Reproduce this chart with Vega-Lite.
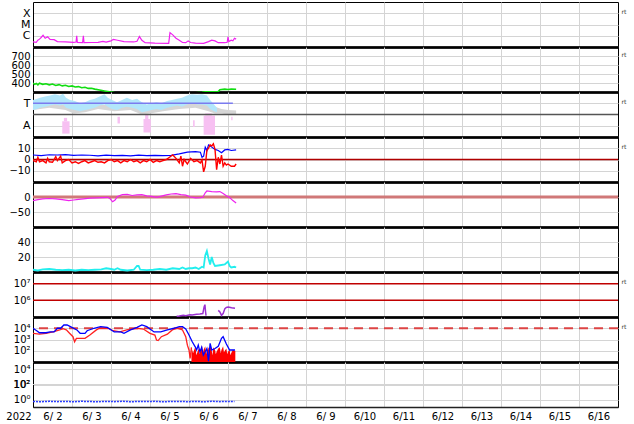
{
"$schema":"https://vega.github.io/schema/vega-lite/v6.json",
"padding":{"left":2,"top":1,"right":2,"bottom":2},
"bounds":"flush",
"spacing":0,
"datasets":{
"xr":[{"h":0,"v":2.8e-7},{"h":2,"v":2.6e-7},{"h":3,"v":4e-7},{"h":4,"v":5e-7},{"h":5,"v":7e-7},{"h":6.2,"v":1.1e-6},{"h":7.5,"v":6e-7},{"h":9,"v":8e-7},{"h":10.5,"v":4.8e-7},{"h":13,"v":4.5e-7},{"h":15,"v":3e-7},{"h":20,"v":2.8e-7},{"h":25,"v":2.6e-7},{"h":26.5,"v":2.8e-7},{"h":26.9,"v":1e-6},{"h":27.3,"v":2.5e-7},{"h":30.5,"v":2.4e-7},{"h":31,"v":1e-6},{"h":31.4,"v":2.4e-7},{"h":36,"v":2.5e-7},{"h":40,"v":2.6e-7},{"h":43,"v":3.2e-7},{"h":45,"v":2.7e-7},{"h":48,"v":3.5e-7},{"h":49.5,"v":4.8e-7},{"h":52,"v":4e-7},{"h":56,"v":3e-7},{"h":62,"v":2.8e-7},{"h":64,"v":3.2e-7},{"h":65.5,"v":8.5e-7},{"h":67,"v":4e-7},{"h":69,"v":2.4e-7},{"h":75,"v":2.2e-7},{"h":83.5,"v":2.1e-7},{"h":84.3,"v":1.9e-6},{"h":86,"v":1.2e-6},{"h":88,"v":6e-7},{"h":90,"v":4e-7},{"h":92,"v":2.5e-7},{"h":94,"v":2.4e-7},{"h":95.5,"v":3.5e-7},{"h":97,"v":2.5e-7},{"h":100,"v":2.2e-7},{"h":105,"v":2.1e-7},{"h":108,"v":3e-7},{"h":110,"v":4e-7},{"h":112,"v":3.5e-7},{"h":114,"v":2.4e-7},{"h":118,"v":2.4e-7},{"h":119.5,"v":2.6e-7},{"h":120,"v":8e-7},{"h":120.5,"v":3e-7},{"h":122,"v":4e-7},{"h":123,"v":3.5e-7},{"h":124,"v":6e-7},{"h":125,"v":5e-7}],
"sw":[{"h":0,"v":400},{"h":1,"v":385},{"h":2,"v":395},{"h":3,"v":380},{"h":4,"v":398},{"h":6,"v":385},{"h":8,"v":392},{"h":10,"v":380},{"h":12,"v":388},{"h":14,"v":372},{"h":16,"v":382},{"h":18,"v":368},{"h":20,"v":375},{"h":22,"v":362},{"h":24,"v":368},{"h":26,"v":355},{"h":28,"v":360},{"h":30,"v":348},{"h":32,"v":352},{"h":34,"v":340},{"h":36,"v":342},{"h":38,"v":332},{"h":41,"v":322},{"h":44,"v":312},{"h":47,"v":302},{"h":50,"v":295},{"h":60,"v":290},{"h":80,"v":288},{"h":100,"v":292},{"h":104,"v":298},{"h":106,"v":302},{"h":110,"v":303},{"h":114,"v":305},{"h":115,"v":325},{"h":118,"v":332},{"h":120,"v":328},{"h":122,"v":332},{"h":125,"v":330}],
"gr":[{"h":0,"v":2.4,"v2":2.9},{"h":10,"v":2.6,"v2":3.0},{"h":20,"v":2.4,"v2":2.9},{"h":25,"v":2.1,"v2":2.7},{"h":32,"v":2.2,"v2":2.7},{"h":40,"v":2.5,"v2":2.9},{"h":50,"v":2.3,"v2":2.8},{"h":60,"v":2.4,"v2":2.9},{"h":67,"v":2.0,"v2":2.6},{"h":72,"v":2.1,"v2":2.6},{"h":80,"v":2.3,"v2":2.7},{"h":90,"v":2.5,"v2":3.0},{"h":100,"v":2.6,"v2":3.1},{"h":108,"v":2.3,"v2":2.9},{"h":112,"v":2.1,"v2":2.7},{"h":116,"v":2.1,"v2":2.5},{"h":120,"v":2.0,"v2":2.4},{"h":125,"v":2.05,"v2":2.35}],
"lb":[{"h":0,"v":2.4,"v2":3.3},{"h":2.5,"v":2.5,"v2":3.4},{"h":4.3,"v":2.6,"v2":3.5},{"h":7.4,"v":2.7,"v2":3.6},{"h":10.5,"v":2.8,"v2":3.7},{"h":13.5,"v":2.9,"v2":3.8},{"h":16.6,"v":2.8,"v2":3.7},{"h":18.5,"v":2.9,"v2":3.85},{"h":20.3,"v":2.6,"v2":3.5},{"h":22.8,"v":2.5,"v2":3.3},{"h":25.8,"v":2.4,"v2":3.2},{"h":28.9,"v":2.3,"v2":3.0},{"h":32,"v":2.4,"v2":3.1},{"h":35,"v":2.5,"v2":3.3},{"h":38,"v":2.6,"v2":3.4},{"h":41,"v":2.8,"v2":3.6},{"h":44,"v":2.9,"v2":3.8},{"h":46,"v":2.7,"v2":3.5},{"h":48.6,"v":2.5,"v2":3.3},{"h":51.7,"v":2.4,"v2":3.1},{"h":54.8,"v":2.6,"v2":3.3},{"h":57.8,"v":2.7,"v2":3.5},{"h":61,"v":2.6,"v2":3.3},{"h":64,"v":2.5,"v2":3.4},{"h":67,"v":2.2,"v2":3.1},{"h":70,"v":2.3,"v2":2.9},{"h":73,"v":2.4,"v2":3.0},{"h":76,"v":2.5,"v2":3.1},{"h":79,"v":2.4,"v2":3.0},{"h":82.5,"v":2.6,"v2":3.2},{"h":85.5,"v":2.7,"v2":3.3},{"h":88.6,"v":2.8,"v2":3.4},{"h":91.7,"v":2.7,"v2":3.5},{"h":94.8,"v":2.9,"v2":3.7},{"h":97.8,"v":3.0,"v2":3.8},{"h":101,"v":2.9,"v2":3.75},{"h":104,"v":2.9,"v2":3.8},{"h":107,"v":2.8,"v2":3.7},{"h":109,"v":2.5,"v2":3.3},{"h":111.4,"v":2.3,"v2":2.9},{"h":113.2,"v":2.2,"v2":2.6}],
"pk":[{"h":18,"h2":22.5,"v":0.3,"v2":1.4},{"h":19,"h2":21,"v":1.4,"v2":1.7},{"h":52,"h2":53.5,"v":1.2,"v2":1.8},{"h":68,"h2":72.5,"v":0.4,"v2":1.6},{"h":69,"h2":71,"v":1.6,"v2":2.0},{"h":98.5,"h2":99.5,"v":0.9,"v2":1.5},{"h":105,"h2":112,"v":0.2,"v2":1.9},{"h":106,"h2":110,"v":1.9,"v2":2.1},{"h":122,"h2":122.8,"v":1.5,"v2":1.8}],
"bt":[{"h":0,"v":4},{"h":5,"v":3.5},{"h":10,"v":4.2},{"h":15,"v":4},{"h":20,"v":4.4},{"h":25,"v":3.6},{"h":30,"v":4},{"h":35,"v":3.8},{"h":40,"v":3.2},{"h":45,"v":3.9},{"h":50,"v":3.5},{"h":55,"v":3.7},{"h":60,"v":3.3},{"h":65,"v":3.8},{"h":70,"v":3.5},{"h":75,"v":3.6},{"h":80,"v":3.4},{"h":85,"v":3.7},{"h":90,"v":5},{"h":95,"v":6.5},{"h":100,"v":7},{"h":103,"v":6.5},{"h":104,"v":2},{"h":105,"v":3},{"h":106,"v":11},{"h":107,"v":8},{"h":108,"v":13},{"h":110,"v":11},{"h":112,"v":9},{"h":114,"v":8},{"h":116,"v":6},{"h":118,"v":8.5},{"h":120,"v":9},{"h":122,"v":8},{"h":125,"v":8.5}],
"bz":[{"h":0,"v":-1},{"h":2,"v":-2},{"h":3,"v":2},{"h":4,"v":-2},{"h":6,"v":-1},{"h":8,"v":-3},{"h":9,"v":1},{"h":10,"v":-2},{"h":12,"v":-2.5},{"h":14,"v":2.5},{"h":15,"v":-1},{"h":17,"v":3},{"h":18,"v":-3},{"h":20,"v":-1},{"h":22,"v":0},{"h":24,"v":-3},{"h":26,"v":-2},{"h":28,"v":-3.5},{"h":30,"v":-2},{"h":32,"v":-1},{"h":34,"v":-3},{"h":36,"v":-2},{"h":38,"v":-1},{"h":40,"v":-2.5},{"h":42,"v":-2},{"h":44,"v":-3},{"h":46,"v":-1},{"h":48,"v":0},{"h":50,"v":-2},{"h":52,"v":-1},{"h":54,"v":-3},{"h":56,"v":-1},{"h":58,"v":-2},{"h":60,"v":0},{"h":62,"v":-2},{"h":64,"v":-1},{"h":66,"v":-3},{"h":68,"v":-1},{"h":70,"v":-2},{"h":72,"v":0},{"h":74,"v":-2.5},{"h":76,"v":-1},{"h":78,"v":-2},{"h":80,"v":-1},{"h":82,"v":0},{"h":84,"v":2},{"h":86,"v":4},{"h":88,"v":1},{"h":90,"v":-3},{"h":91,"v":3},{"h":92,"v":-6},{"h":93,"v":0},{"h":95,"v":-4},{"h":97,"v":1},{"h":99,"v":-2},{"h":101,"v":-1},{"h":103,"v":-3},{"h":104,"v":-0.5},{"h":105,"v":-11},{"h":106,"v":-6},{"h":107,"v":8},{"h":108,"v":10},{"h":109,"v":13},{"h":110,"v":12},{"h":111,"v":14},{"h":112,"v":9},{"h":113,"v":-9},{"h":114,"v":2},{"h":115,"v":-4},{"h":116,"v":4},{"h":117,"v":-6},{"h":118,"v":-3},{"h":119,"v":-5},{"h":120,"v":-4},{"h":122,"v":-6},{"h":124,"v":-6},{"h":125,"v":-4}],
"dst":[{"h":0,"v":-12},{"h":3,"v":-9},{"h":6,"v":-6},{"h":10,"v":-5},{"h":14,"v":-6},{"h":18,"v":-9},{"h":22,"v":-12},{"h":25,"v":-10},{"h":28,"v":-8},{"h":31,"v":-6},{"h":35,"v":-4},{"h":39,"v":-3},{"h":43,"v":-2},{"h":46,"v":-1},{"h":47.5,"v":-6},{"h":49,"v":-16},{"h":50.5,"v":-10},{"h":52,"v":2},{"h":55,"v":8},{"h":58,"v":9},{"h":61,"v":5},{"h":64,"v":7},{"h":67,"v":8},{"h":70,"v":4},{"h":73,"v":2},{"h":76,"v":-1},{"h":79,"v":3},{"h":82,"v":7},{"h":85,"v":10},{"h":88,"v":11},{"h":91,"v":8},{"h":94,"v":6},{"h":97,"v":0},{"h":100,"v":-3},{"h":103,"v":-2},{"h":104.5,"v":-1},{"h":106,"v":14},{"h":107,"v":20},{"h":110,"v":18},{"h":113,"v":17},{"h":115,"v":18},{"h":117,"v":12},{"h":119,"v":4},{"h":121,"v":-2},{"h":123,"v":-12},{"h":125,"v":-20}],
"np":[{"h":0,"v":3},{"h":3,"v":2},{"h":6,"v":3.5},{"h":10,"v":4},{"h":14,"v":3},{"h":18,"v":2.5},{"h":22,"v":3},{"h":26,"v":2},{"h":30,"v":3},{"h":34,"v":2.5},{"h":38,"v":3},{"h":42,"v":3.5},{"h":45,"v":5},{"h":48,"v":4},{"h":50,"v":3},{"h":52,"v":5},{"h":54,"v":3},{"h":58,"v":2},{"h":62,"v":3},{"h":64,"v":8},{"h":65,"v":8},{"h":66,"v":3},{"h":70,"v":2.5},{"h":74,"v":3},{"h":78,"v":4},{"h":82,"v":3},{"h":86,"v":5},{"h":90,"v":4},{"h":92,"v":6},{"h":94,"v":4},{"h":96,"v":5},{"h":98,"v":5},{"h":100,"v":6},{"h":102,"v":4},{"h":104,"v":7},{"h":105,"v":6},{"h":106,"v":22},{"h":107,"v":28},{"h":108,"v":18},{"h":109,"v":10},{"h":110,"v":20},{"h":111,"v":12},{"h":112,"v":8},{"h":115,"v":9},{"h":118,"v":10},{"h":120,"v":14},{"h":121,"v":8},{"h":122,"v":6},{"h":124,"v":7},{"h":125,"v":6}],
"gp":[{"s":"a","h":88.4,"v":1.1e5},{"s":"a","h":90,"v":1.15e5},{"s":"a","h":92.5,"v":1.26e5},{"s":"a","h":94,"v":1.2e5},{"s":"a","h":96.6,"v":1.38e5},{"s":"a","h":98,"v":1.3e5},{"s":"a","h":100.7,"v":1.45e5},{"s":"a","h":102.7,"v":1.5e5},{"s":"a","h":104.5,"v":1.6e5},{"s":"a","h":105.3,"v":4e5},{"s":"a","h":105.8,"v":5.5e5},{"s":"a","h":106.2,"v":2e5},{"s":"a","h":106.5,"v":1.2e5},{"s":"b","h":114,"v":2.5e5},{"s":"b","h":115,"v":2e5},{"s":"b","h":116,"v":1.26e5},{"s":"b","h":117,"v":1.6e5},{"s":"b","h":118.1,"v":3.2e5},{"s":"b","h":119,"v":3.8e5},{"s":"b","h":120.1,"v":4e5},{"s":"b","h":122.2,"v":3.6e5},{"s":"b","h":124.3,"v":3.3e5}],
"pb":[{"h":0,"v":10000},{"h":2.3,"v":6000},{"h":4,"v":4000},{"h":8,"v":4000},{"h":10.5,"v":4700},{"h":13,"v":4700},{"h":15,"v":10000},{"h":17,"v":10000},{"h":19,"v":19500},{"h":21,"v":19500},{"h":23,"v":13800},{"h":27,"v":7100},{"h":29,"v":3550},{"h":32,"v":3550},{"h":33.3,"v":6000},{"h":37.5,"v":10000},{"h":41.6,"v":13800},{"h":45.7,"v":12000},{"h":50,"v":4700},{"h":54,"v":4700},{"h":56,"v":3550},{"h":60,"v":7100},{"h":64,"v":12000},{"h":67,"v":19500},{"h":70,"v":13800},{"h":74.5,"v":4700},{"h":78.6,"v":4700},{"h":82.7,"v":7100},{"h":86.8,"v":10000},{"h":90,"v":13800},{"h":92,"v":13800},{"h":94,"v":8500},{"h":96,"v":2500},{"h":98,"v":630},{"h":100,"v":200},{"h":100.7,"v":117},{"h":101.7,"v":316},{"h":102.7,"v":79},{"h":103.8,"v":200},{"h":104.8,"v":40},{"h":107,"v":158},{"h":108,"v":12},{"h":109,"v":457},{"h":110,"v":117},{"h":112,"v":158},{"h":114,"v":251},{"h":116,"v":1260},{"h":117,"v":1780},{"h":119,"v":400},{"h":121,"v":117},{"h":124.3,"v":117}],
"er":[{"h":0,"v":3550},{"h":4,"v":3000},{"h":8,"v":3550},{"h":12.3,"v":4700},{"h":16.4,"v":7000},{"h":18.5,"v":9100},{"h":20.5,"v":7100},{"h":22.5,"v":3550},{"h":24.6,"v":1780},{"h":25.6,"v":630},{"h":26.7,"v":1260},{"h":29,"v":1260},{"h":32,"v":1260},{"h":35,"v":2500},{"h":39,"v":7100},{"h":41,"v":10000},{"h":46,"v":10000},{"h":49.4,"v":6000},{"h":53.5,"v":4700},{"h":57.6,"v":7100},{"h":64,"v":10000},{"h":67.9,"v":8500},{"h":72,"v":3550},{"h":75,"v":2500},{"h":76,"v":900},{"h":77,"v":800},{"h":79,"v":1780},{"h":82.7,"v":3000},{"h":85.7,"v":7100},{"h":88.8,"v":10000},{"h":92,"v":7100},{"h":94,"v":1780},{"h":95,"v":316},{"h":96,"v":117},{"h":96.7,"v":21},{"h":97.5,"v":200}],
"ef":[{"h":97.5,"v":200},{"h":98.5,"v":60},{"h":99,"v":100},{"h":100,"v":250},{"h":100.5,"v":40},{"h":101,"v":63},{"h":102,"v":160},{"h":102.5,"v":50},{"h":103,"v":100},{"h":104,"v":316},{"h":104.5,"v":60},{"h":105,"v":125},{"h":106,"v":250},{"h":106.5,"v":50},{"h":107,"v":100},{"h":108,"v":200},{"h":108.5,"v":70},{"h":109,"v":316},{"h":110,"v":100},{"h":110.5,"v":40},{"h":111,"v":200},{"h":112,"v":125},{"h":112.5,"v":50},{"h":113,"v":80},{"h":114,"v":160},{"h":115,"v":200},{"h":115.5,"v":60},{"h":116,"v":125},{"h":117,"v":250},{"h":117.5,"v":70},{"h":118,"v":100},{"h":119,"v":160},{"h":119.5,"v":50},{"h":120,"v":80},{"h":121,"v":125},{"h":121.5,"v":40},{"h":122,"v":63},{"h":123,"v":125},{"h":124,"v":100},{"h":124.5,"v":100}],
"lo":[{"h":0,"v":0.55},{"h":5,"v":0.5},{"h":10,"v":0.57},{"h":15,"v":0.52},{"h":20,"v":0.56},{"h":25,"v":0.5},{"h":30,"v":0.57},{"h":35,"v":0.53},{"h":40,"v":0.5},{"h":45,"v":0.56},{"h":50,"v":0.52},{"h":55,"v":0.58},{"h":60,"v":0.5},{"h":65,"v":0.55},{"h":70,"v":0.52},{"h":75,"v":0.57},{"h":80,"v":0.5},{"h":85,"v":0.54},{"h":90,"v":0.56},{"h":95,"v":0.51},{"h":100,"v":0.55},{"h":105,"v":0.5},{"h":110,"v":0.57},{"h":115,"v":0.52},{"h":120,"v":0.54},{"h":124,"v":0.53}]
},
"vconcat":[
{"width":585,"height":45,"layer":[
 {"data":{"name":"xr"},"mark":{"type":"line","color":"#f020f0","strokeWidth":1.2,"clip":true},
  "encoding":{"x":{"field":"h","type":"quantitative","title":null,"scale":{"domain":[0,360],"nice":false,"zero":false},"axis":{"values":[0,24,48,72,96,120,144,168,192,216,240,264,288,312,336],"tickCount":30}},
   "y":{"field":"v","type":"quantitative","title":null,"scale":{"type":"log","domain":[1e-7,1e-3],"nice":false},"axis":{"values":[1e-6,1e-5,1e-4],"tickCount":10,"labelOverlap":false,"labelExpr":"datum.value > 5e-5 ? 'X' : datum.value > 5e-6 ? 'M' : 'C'","labelFontSize":11}}}},
 {"data":{"values":[{}]},"mark":{"type":"text","text":"rt","fontSize":6,"dx":6,"dy":-1,"align":"center","color":"#333"},"encoding":{"x":{"datum":360},"y":{"datum":1e-4}}}
]},
{"width":585,"height":45,"layer":[
 {"data":{"name":"sw"},"mark":{"type":"line","color":"#11dd11","strokeWidth":1.6,"clip":true},
  "encoding":{"x":{"field":"h","type":"quantitative","title":null,"scale":{"domain":[0,360],"nice":false,"zero":false},"axis":{"values":[0,24,48,72,96,120,144,168,192,216,240,264,288,312,336],"tickCount":30}},
   "y":{"field":"v","type":"quantitative","title":null,"scale":{"domain":[300,800],"nice":false,"zero":false},"axis":{"values":[400,500,600,700],"tickCount":10,"labelOverlap":false}}}},
 {"data":{"values":[{}]},"mark":{"type":"text","text":"rt","fontSize":6,"dx":6,"dy":-1,"align":"center","color":"#333"},"encoding":{"x":{"datum":360},"y":{"datum":700}}}
]},
{"width":585,"height":45,"layer":[
 {"data":{"name":"gr"},"mark":{"type":"area","color":"#d6d6d6","clip":true},
  "encoding":{"x":{"field":"h","type":"quantitative","title":null,"scale":{"domain":[0,360],"nice":false,"zero":false},"axis":{"values":[0,24,48,72,96,120,144,168,192,216,240,264,288,312,336],"tickCount":30}},
   "y":{"field":"v","type":"quantitative","title":null,"scale":{"domain":[0,4],"nice":false,"zero":false},"axis":{"values":[1,3],"tickCount":10,"labelOverlap":false,"labelExpr":"datum.value == 3 ? 'T' : 'A'","labelFontSize":11}},
   "y2":{"field":"v2"}}},
 {"data":{"name":"lb"},"mark":{"type":"area","color":"#b2e6fb","clip":true},
  "encoding":{"x":{"field":"h","type":"quantitative","title":null},"y":{"field":"v","type":"quantitative","title":null},"y2":{"field":"v2"}}},
 {"data":{"name":"pk"},"mark":{"type":"rect","color":"#f7c0f2"},
  "encoding":{"x":{"field":"h","type":"quantitative","title":null},"x2":{"field":"h2"},"y":{"field":"v","type":"quantitative","title":null},"y2":{"field":"v2"}}},
 {"data":{"values":[{}]},"mark":{"type":"rule","color":"#555555","strokeWidth":1.5},"encoding":{"y":{"datum":2}}},
 {"data":{"values":[{}]},"mark":{"type":"rule","color":"#7b7bef","strokeWidth":1.5},"encoding":{"x":{"datum":0},"x2":{"datum":123},"y":{"datum":3}}},
 {"data":{"values":[{}]},"mark":{"type":"text","text":"rt","fontSize":6,"dx":6,"dy":-1.5,"align":"center","color":"#333"},"encoding":{"x":{"datum":360},"y":{"datum":3}}}
]},
{"width":585,"height":45,"layer":[
 {"data":{"values":[{}]},"mark":{"type":"rule","color":"#b00000","strokeWidth":1.5},"encoding":{"y":{"datum":0}}},
 {"data":{"name":"bt"},"mark":{"type":"line","color":"#0000ff","strokeWidth":1.2,"clip":true},
  "encoding":{"x":{"field":"h","type":"quantitative","title":null,"scale":{"domain":[0,360],"nice":false,"zero":false},"axis":{"values":[0,24,48,72,96,120,144,168,192,216,240,264,288,312,336],"tickCount":30}},
   "y":{"field":"v","type":"quantitative","title":null,"scale":{"domain":[-20,20],"nice":false,"zero":false},"axis":{"values":[-10,0,10],"tickCount":10,"labelOverlap":false}}}},
 {"data":{"name":"bz"},"mark":{"type":"line","color":"#ff0000","strokeWidth":1.4,"clip":true},
  "encoding":{"x":{"field":"h","type":"quantitative","title":null},"y":{"field":"v","type":"quantitative","title":null}}},
 {"data":{"values":[{}]},"mark":{"type":"text","text":"rt","fontSize":6,"dx":6,"dy":-1.5,"align":"center","color":"#333"},"encoding":{"x":{"datum":360},"y":{"datum":10}}}
]},
{"width":585,"height":45,"layer":[
 {"data":{"values":[{}]},"mark":{"type":"rule","color":"#d07878","strokeWidth":3},"encoding":{"y":{"datum":0}}},
 {"data":{"name":"dst"},"mark":{"type":"line","color":"#ee22ee","strokeWidth":1.2,"clip":true},
  "encoding":{"x":{"field":"h","type":"quantitative","title":null,"scale":{"domain":[0,360],"nice":false,"zero":false},"axis":{"values":[0,24,48,72,96,120,144,168,192,216,240,264,288,312,336],"tickCount":30}},
   "y":{"field":"v","type":"quantitative","title":null,"scale":{"domain":[-100,50],"nice":false,"zero":false},"axis":{"values":[-50,0],"tickCount":10,"labelOverlap":false}}}}
]},
{"width":585,"height":45,"layer":[
 {"data":{"name":"np"},"mark":{"type":"line","color":"#22eeee","strokeWidth":1.8,"clip":true},
  "encoding":{"x":{"field":"h","type":"quantitative","title":null,"scale":{"domain":[0,360],"nice":false,"zero":false},"axis":{"values":[0,24,48,72,96,120,144,168,192,216,240,264,288,312,336],"tickCount":30}},
   "y":{"field":"v","type":"quantitative","title":null,"scale":{"domain":[0,60],"nice":false,"zero":false},"axis":{"values":[20,40],"tickCount":10,"labelOverlap":false}}}}
]},
{"width":585,"height":45,"layer":[
 {"data":{"values":[{}]},"mark":{"type":"rule","color":"#c00000","strokeWidth":1.5},"encoding":{"y":{"datum":1000000}}},
 {"data":{"values":[{}]},"mark":{"type":"rule","color":"#c00000","strokeWidth":1.5},"encoding":{"y":{"datum":10000000}}},
 {"data":{"name":"gp"},"mark":{"type":"line","color":"#9b30d0","strokeWidth":1.5,"clip":true},
  "encoding":{"x":{"field":"h","type":"quantitative","title":null,"scale":{"domain":[0,360],"nice":false,"zero":false},"axis":{"values":[0,24,48,72,96,120,144,168,192,216,240,264,288,312,336],"tickCount":30}},
   "y":{"field":"v","type":"quantitative","title":null,"scale":{"type":"log","domain":[100000,50000000],"nice":false},"axis":{"values":[1000000,10000000],"tickCount":10,"grid":false,"labelOverlap":false,"labelExpr":"datum.value > 5000000 ? '10⁷' : '10⁶'"}},
   "detail":{"field":"s"}}},
 {"data":{"values":[{}]},"mark":{"type":"text","text":"rt","fontSize":6,"dx":6,"dy":-1.5,"align":"center","color":"#333"},"encoding":{"x":{"datum":360},"y":{"datum":10000000}}}
]},
{"width":585,"height":45,"layer":[
 {"data":{"values":[{}]},"mark":{"type":"rule","color":"#dd4444","strokeWidth":2,"strokeDash":[9,6]},"encoding":{"y":{"datum":10000}}},
 {"data":{"name":"ef"},"mark":{"type":"area","color":"#ff0000","clip":true},
  "encoding":{"x":{"field":"h","type":"quantitative","title":null,"scale":{"domain":[0,360],"nice":false,"zero":false},"axis":{"values":[0,24,48,72,96,120,144,168,192,216,240,264,288,312,336],"tickCount":30}},
   "y":{"field":"v","type":"quantitative","title":null,"scale":{"type":"log","domain":[10,100000],"nice":false},"axis":{"values":[100,1000,10000],"tickCount":10,"labelOverlap":false,"labelExpr":"datum.value > 5000 ? '10⁴' : datum.value > 500 ? '10³' : '10²'"}},
   "y2":{"datum":10}}},
 {"data":{"name":"er"},"mark":{"type":"line","color":"#ff2020","strokeWidth":1.3,"clip":true},
  "encoding":{"x":{"field":"h","type":"quantitative","title":null},"y":{"field":"v","type":"quantitative","title":null}}},
 {"data":{"name":"pb"},"mark":{"type":"line","color":"#0000ff","strokeWidth":1.3,"clip":true},
  "encoding":{"x":{"field":"h","type":"quantitative","title":null},"y":{"field":"v","type":"quantitative","title":null}}},
 {"data":{"values":[{}]},"mark":{"type":"text","text":"rt","fontSize":6,"dx":6,"dy":-1.5,"align":"center","color":"#333"},"encoding":{"x":{"datum":360},"y":{"datum":10000}}}
]},
{"width":585,"height":45,"layer":[
 {"data":{"values":[{}]},"mark":{"type":"rule","color":"#d4d4d4","strokeWidth":1},"encoding":{"y":{"datum":100}}},
 {"data":{"name":"lo"},"mark":{"type":"line","color":"#2a3cff","strokeWidth":1.5,"strokeDash":[2,1],"clip":true},
  "encoding":{"x":{"field":"h","type":"quantitative","title":"2022","scale":{"domain":[0,360],"nice":false,"zero":false},
    "axis":{"values":[0,24,48,72,96,120,144,168,192,216,240,264,288,312,336],"tickCount":30,"labels":true,"labelExpr":"'6/' + (datum.value/24 + 2 < 10 ? ' ' : '') + (datum.value/24 + 2)","labelOffset":19.5,"labelPadding":4,"labelFontSize":10,"labelBaseline":"top","labelOverlap":false,"labelFlush":false,"labelColor":"#000","domainWidth":1.5,"titleX":-14.5,"titleY":4,"titleBaseline":"top","titleAlign":"center","titleAnchor":null,"titleFontWeight":"normal","titleFontSize":10,"titleColor":"#000","titleFont":"DejaVu Sans"}},
   "y":{"field":"v","type":"quantitative","title":null,"scale":{"type":"log","domain":[0.1,100000],"nice":false},"axis":{"values":[1,100,10000],"tickCount":10,"labelOverlap":false,"labelExpr":"datum.value < 10 ? '10⁰' : datum.value < 1000 ? '10²' : '10⁴'"}}}},
 {"data":{"values":[{}]},"mark":{"type":"text","text":"10²","font":"DejaVu Sans","fontSize":10,"align":"right","baseline":"middle","dx":-3,"color":"#000","clip":false},"encoding":{"x":{"datum":0},"y":{"datum":100}}}
]}
],
"config":{
 "view":{"stroke":"#000","strokeWidth":1},
 "font":"DejaVu Sans",
 "axis":{"labelFont":"DejaVu Sans","labelColor":"#000","gridColor":"#d4d4d4","gridWidth":1,"domainColor":"#000"},
 "axisX":{"labels":false,"ticks":false,"domainWidth":3,"domainColor":"#222","grid":true},
 "axisY":{"ticks":false,"labelFontSize":10,"labelPadding":3,"grid":true,"domain":true,"domainWidth":1,"minExtent":30,"maxExtent":30}
}
}
